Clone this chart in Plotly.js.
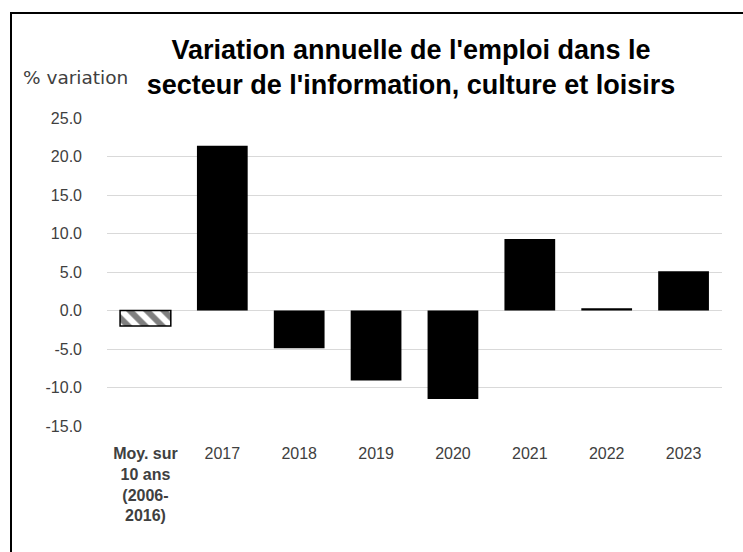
<!DOCTYPE html>
<html>
<head>
<meta charset="utf-8">
<script src="https://cdn.plot.ly/plotly-3.0.1.min.js"></script>
<style>
  html, body { margin: 0; padding: 0; background: #fff; }
  #wrap { position: relative; width: 743px; height: 552px; overflow: hidden; }
  #chart { position: absolute; left: 0; top: 0; width: 743px; height: 552px; }
  #frame { position: absolute; left: 10px; top: 12px; width: 760px; height: 600px;
           border-top: 2px solid #000; border-left: 2px solid #000; pointer-events: none; }
</style>
</head>
<body>
<div id="wrap">
  <div id="chart"></div>
  <div id="frame"></div>
</div>
<script>
// Data
const categories = ["Moy. sur 10 ans (2006-2016)", "2017", "2018", "2019", "2020", "2021", "2022", "2023"];
const tickLabels = ["<b>Moy. sur</b><br><b>10 ans</b><br><b>(2006-</b><br><b>2016)</b>", "2017", "2018", "2019", "2020", "2021", "2022", "2023"];
const averageCategory = ["Moy. sur 10 ans (2006-2016)"];
const averageValue = [-2.0];
const yearCategories = ["2017", "2018", "2019", "2020", "2021", "2022", "2023"];
const yearValues = [21.4, -4.9, -9.1, -11.5, 9.3, 0.3, 5.1];
const yTickValues = [-15, -10, -5, 0, 5, 10, 15, 20, 25];
const yTickLabels = ["-15.0", "-10.0", "-5.0", "0.0", "5.0", "10.0", "15.0", "20.0", "25.0"];
const titleText = "Variation annuelle de l'emploi dans le<br>secteur de l'information, culture et loisirs";
const yAxisLabel = "% variation";

const averageTrace = {
  type: "bar",
  x: averageCategory,
  y: averageValue,
  marker: {
    color: "#ffffff",
    line: { color: "#000000", width: 1.5 },
    pattern: {
      shape: "\\",
      fgcolor: "#000000",
      bgcolor: "#ffffff",
      fillmode: "overlay",
      size: 12,
      solidity: 0.5
    }
  }
};

const yearTrace = {
  type: "bar",
  x: yearCategories,
  y: yearValues,
  marker: { color: "#000000", line: { width: 0 } }
};

const font = "Liberation Sans, Arial, sans-serif";

const layout = {
  width: 743,
  height: 552,
  margin: { l: 107, r: 21, t: 118, b: 126 },
  paper_bgcolor: "#ffffff",
  plot_bgcolor: "#ffffff",
  showlegend: false,
  barmode: "relative",
  bargap: 0.34,
  font: { family: font, size: 16, color: "#595959" },
  title: {
    text: titleText,
    font: { family: font, size: 27, color: "#000000", weight: "bold" },
    xref: "container", x: 411 / 743, xanchor: "center",
    yref: "container", y: 1 - 59 / 552, yanchor: "middle"
  },
  xaxis: {
    type: "category",
    categoryorder: "array",
    categoryarray: categories,
    tickmode: "array",
    tickvals: categories,
    ticktext: tickLabels,
    showline: false,
    ticks: "",
    showgrid: false,
    zeroline: false,
    tickangle: 0,
    ticklabelstandoff: 16,
    tickfont: { family: font, size: 16, color: "#404040" }
  },
  yaxis: {
    range: [-15, 25],
    tickmode: "array",
    tickvals: yTickValues,
    ticktext: yTickLabels,
    showgrid: true,
    gridcolor: "#d9d9d9",
    gridwidth: 1,
    zeroline: true,
    zerolinecolor: "#d9d9d9",
    zerolinewidth: 1,
    showline: false,
    ticks: "",
    ticklabelstandoff: 24,
    tickfont: { family: font, size: 16, color: "#404040" }
  },
  annotations: [{
    text: yAxisLabel,
    xref: "paper", yref: "paper",
    x: (21 - 107) / 615, y: 1 + (118 - 78) / 308,
    xanchor: "left", yanchor: "middle",
    showarrow: false,
    font: { family: "DejaVu Sans, sans-serif", size: 18.5, color: "#404040" }
  }]
};

Plotly.newPlot("chart", [averageTrace, yearTrace], layout, { displayModeBar: false, staticPlot: true });
</script>
</body>
</html>
